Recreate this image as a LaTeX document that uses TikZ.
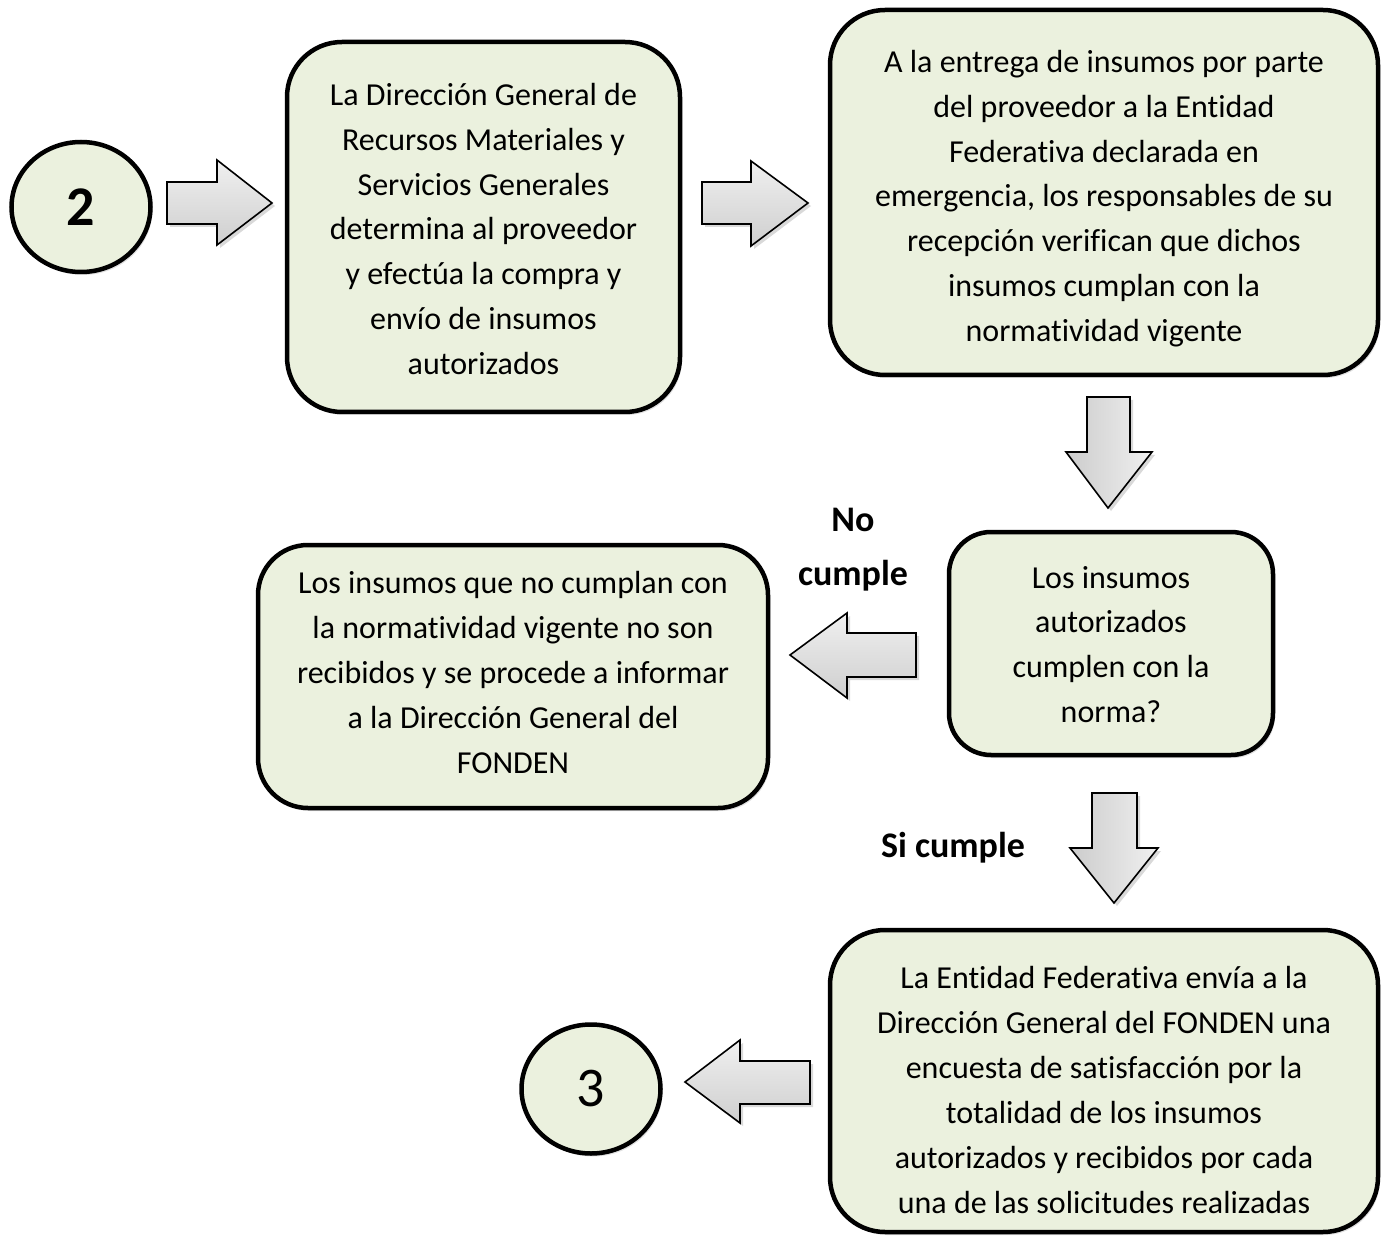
\documentclass[tikz,border=0pt]{standalone}
\usepackage{fontspec}
\setmainfont{Carlito}[Ligatures={NoCommon,NoContextual}, Contextuals=NoAlternate]
\usetikzlibrary{shadows,shapes.geometric}
\definecolor{boxfill}{HTML}{EBF1DE}
\tikzset{
  x=1pt,y=-1pt,
  stepbox/.style={draw=black, line width=4.5pt, fill=boxfill, rounded corners=55pt,
    inner sep=0pt,
    drop shadow={opacity=0.25, shadow xshift=2pt, shadow yshift=-3pt}},
  boxtext/.style={align=center, inner sep=0pt, font=\fontsize{32}{44.8}\selectfont},
  numcircle/.style={draw=black, line width=4.5pt, fill=boxfill, ellipse, inner sep=0pt,
    font=\fontsize{56}{60}\selectfont,
    drop shadow={opacity=0.25, shadow xshift=2pt, shadow yshift=-3pt}},
  harrow/.style={draw=black, line width=1.6pt, line join=miter, top color=gray!12, bottom color=gray!38,
    drop shadow={opacity=0.3, shadow xshift=3pt, shadow yshift=-3pt}},
  varrow/.style={draw=black, line width=1.6pt, line join=miter, left color=gray!40, right color=gray!12,
    drop shadow={opacity=0.3, shadow xshift=3pt, shadow yshift=-3pt}},
  lbl/.style={font=\fontsize{36}{54}\selectfont\bfseries, align=center}
}
\begin{document}
\begin{tikzpicture}
\useasboundingbox (0,0) rectangle (1382,1238);

% circles
\node[numcircle, minimum width=139pt, minimum height=130pt] (c2) at (81,207) {\bfseries 2};
\node[numcircle, minimum width=139pt, minimum height=129pt] (c3) at (591,1089) {3};

% boxes
\node[stepbox, minimum width=393pt, minimum height=370pt] (b1) at (483.5,227) {};
\node[boxtext, yshift=-2pt] (t1) at (b1.center) {La Dirección General de\\Recursos Materiales y\\Servicios Generales\\determina al proveedor\\y efectúa la compra y\\envío de insumos\\autorizados};
\node[stepbox, minimum width=548pt, minimum height=365pt] (b2) at (1104,192.5) {};
\node[boxtext, yshift=-6pt] (t2) at (b2.center) {A la entrega de insumos por parte\\del proveedor a la Entidad\\Federativa declarada en\\emergencia, los responsables de su\\recepción verifican que dichos\\insumos cumplan con la\\normatividad vigente};
\node[stepbox, rounded corners=42pt, minimum width=324pt, minimum height=223pt] (b3) at (1111,643.5) {};
\node[boxtext, yshift=-1pt] (t3) at (b3.center) {Los insumos\\autorizados\\cumplen con la\\norma?};
\node[stepbox, rounded corners=50pt, minimum width=510pt, minimum height=263pt] (b4) at (513,676.5) {};
\node[boxtext, yshift=4pt] (t4) at (b4.center) {Los insumos que no cumplan con\\la normatividad vigente no son\\recibidos y se procede a informar\\a la Dirección General del\\FONDEN};
\node[stepbox, minimum width=548pt, minimum height=302pt] (b5) at (1104,1081) {};
\node[boxtext, yshift=-9pt, font=\fontsize{32}{45}\selectfont] (t5) at (b5.center) {La Entidad Federativa envía a la\\Dirección General del FONDEN una\\encuesta de satisfacción por la\\totalidad de los insumos\\autorizados y recibidos por cada\\una de las solicitudes realizadas};

% labels
\node[lbl] (no) at (853,550) {No\\cumple};
\node[lbl] (si) at (953,848) {Si cumple};

% block arrows
% c2 -> b1
\path[harrow] (167,182) -- (217,182) -- (217,160) -- (272,203) -- (217,245) -- (217,224) -- (167,224) -- cycle;
% b1 -> b2
\path[harrow] (702,182) -- (751,182) -- (751,161) -- (808,203) -- (751,246) -- (751,224) -- (702,224) -- cycle;
% b2 -> b3
\path[varrow] (1087,397) -- (1130,397) -- (1130,452) -- (1152,452) -- (1108,508) -- (1066,452) -- (1087,452) -- cycle;
% b3 -> b4
\path[harrow] (916,633) -- (847,633) -- (847,613) -- (790,655) -- (847,698) -- (847,677) -- (916,677) -- cycle;
% b3 -> b5
\path[varrow] (1092,793) -- (1137,793) -- (1137,848) -- (1158,848) -- (1114,903) -- (1070,848) -- (1092,848) -- cycle;
% b5 -> c3
\path[harrow] (810,1061) -- (740,1061) -- (740,1040) -- (685,1082) -- (740,1123) -- (740,1104) -- (810,1104) -- cycle;
\end{tikzpicture}
\end{document}
